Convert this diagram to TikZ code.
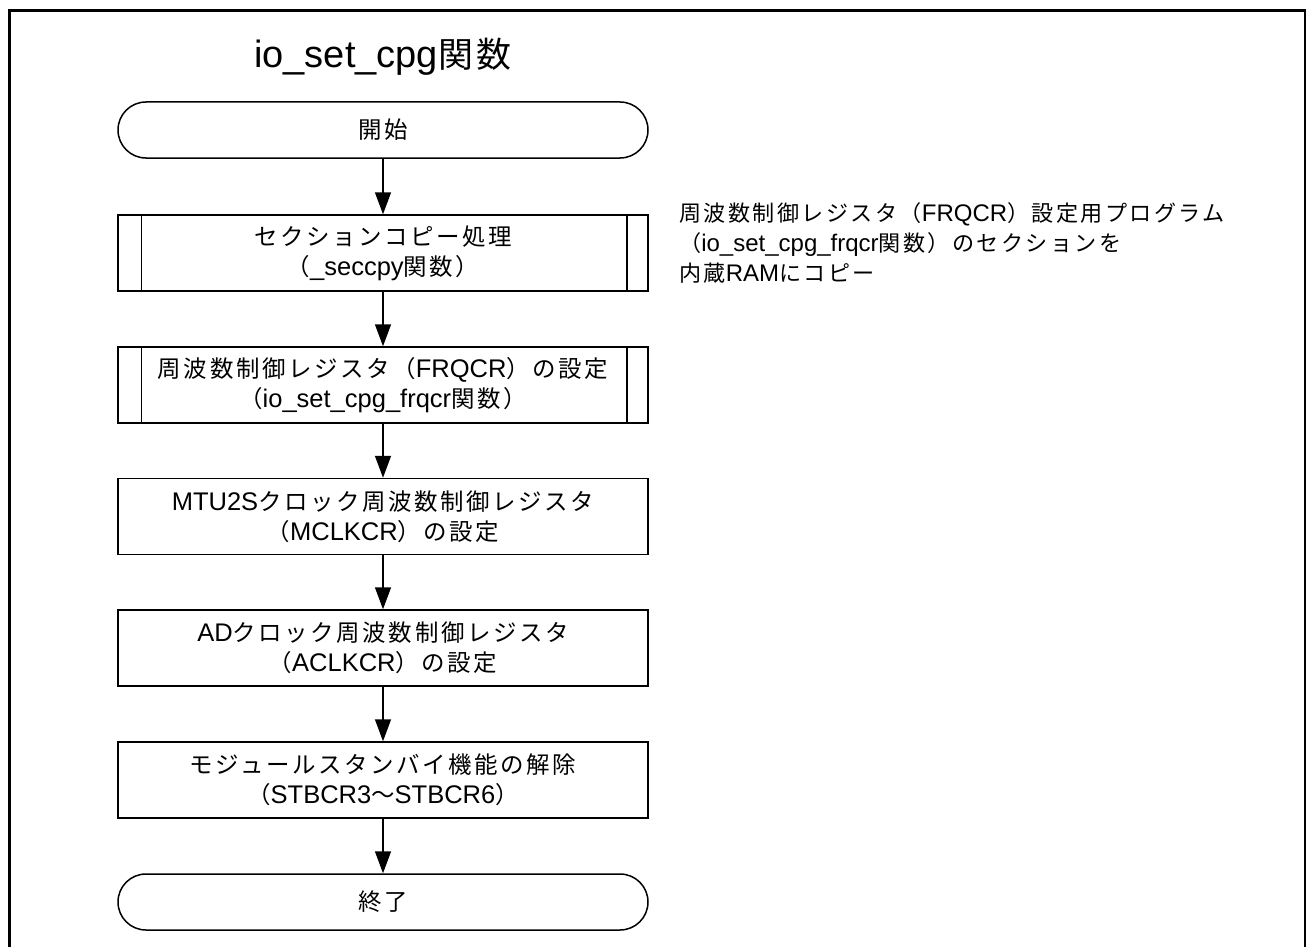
\documentclass[tikz,border=0pt]{standalone}
\usepackage{fontspec}
\setmainfont{Liberation Sans}
\newfontfamily\jp{Noto Sans CJK JP}[Scale=0.92,LetterSpace=11]
\usetikzlibrary{arrows.meta,calc}
\tikzset{
  body/.style={font=\fontsize{25.5}{30}\selectfont},
  terminal/.style={body,draw,line width=1.5pt,rounded corners=28pt,minimum width=530pt,minimum height=56pt,inner sep=0pt,align=center},
  procbox/.style={body,draw,line width=1.5pt,minimum width=530pt,minimum height=76pt,inner sep=0pt,align=center},
  arr/.style={line width=1.5pt,-{Triangle[length=22pt,width=16pt]}},
  notetext/.style={font=\fontsize{24}{30}\selectfont,align=left,inner sep=0pt,anchor=west}
}
\newcommand{\subbars}[1]{%
  \draw[line width=1.5pt] ($(#1.north west)+(24,0)$) -- ($(#1.south west)+(24,0)$);
  \draw[line width=1.5pt] ($(#1.north east)+(-22,0)$) -- ($(#1.south east)+(-22,0)$);}
\begin{document}
\begin{tikzpicture}[x=1pt,y=-1pt]
\useasboundingbox (0,0) rectangle (1306,947);
\draw[line width=3pt] (9,950) -- (9,11) -- (1305,11) -- (1305,950);

\node[font=\fontsize{38}{42}\selectfont,inner sep=0pt] (title) at (383,57) {io\_set\_cpg{\jp 関数}};

\node[terminal] (start) at (383,130) {{\jp 開始}};
\node[procbox] (b1) at (383,253) {{\jp セクションコピー処理}\\{\jp （}\_seccpy{\jp 関数）}};
\node[procbox] (b2) at (383,385) {{\jp 周波数制御レジスタ（}FRQCR{\jp ）の設定}\\{\jp （}io\_set\_cpg\_frqcr{\jp 関数）}};
\node[procbox] (b3) at (383,516.5) {MTU2S{\jp クロック周波数制御レジスタ}\\{\jp （}MCLKCR{\jp ）の設定}};
\node[procbox] (b4) at (383,648) {AD{\jp クロック周波数制御レジスタ}\\{\jp （}ACLKCR{\jp ）の設定}};
\node[procbox] (b5) at (383,780) {{\jp モジュールスタンバイ機能の解除}\\{\jp （}STBCR3{\jp 〜}STBCR6{\jp ）}};
\node[terminal] (end) at (383,902) {{\jp 終了}};

\subbars{b1}
\subbars{b2}

\draw[arr] (start) -- (b1);
\draw[arr] (b1) -- (b2);
\draw[arr] (b2) -- (b3);
\draw[arr] (b3) -- (b4);
\draw[arr] (b4) -- (b5);
\draw[arr] (b5) -- (end);

\node[notetext] (note) at (679,243) {{\jp 周波数制御レジスタ（}FRQCR{\jp ）設定用プログラム}\\{\jp （}io\_set\_cpg\_frqcr{\jp 関数）のセクションを}\\{\jp 内蔵}RAM{\jp にコピー}};
\end{tikzpicture}
\end{document}
